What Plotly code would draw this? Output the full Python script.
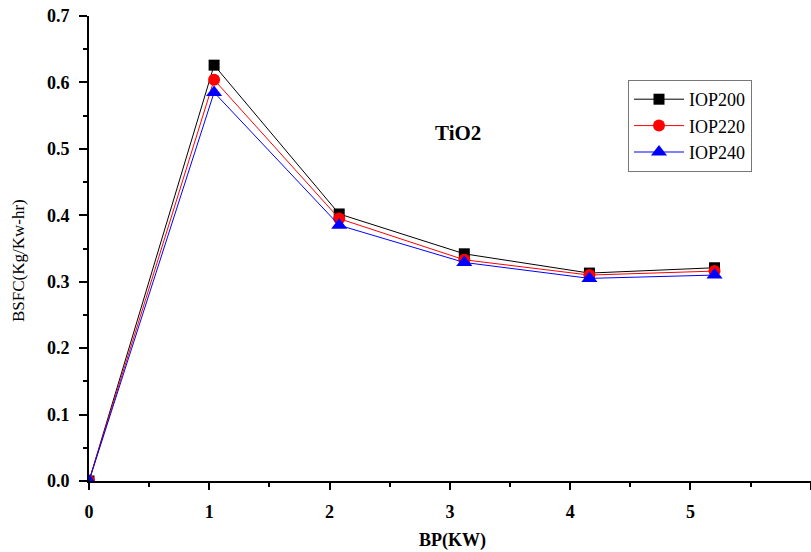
import plotly.graph_objects as go

bp = [0, 1.04, 2.08, 3.12, 4.16, 5.2]
iop200 = [0.0, 0.626, 0.402, 0.342, 0.313, 0.321]
iop220 = [0.0, 0.604, 0.395, 0.333, 0.310, 0.316]
iop240 = [0.0, 0.585, 0.385, 0.329, 0.305, 0.310]

x_ticks = [0, 1, 2, 3, 4, 5, 6]
y_ticks = [0.0, 0.1, 0.2, 0.3, 0.4, 0.5, 0.6, 0.7]

serif = "Liberation Serif"

L, T, R, B = 89, 16, 811, 481
W, H = R - L, B - T

fig = go.Figure()
fig.add_trace(go.Scatter(x=bp, y=iop200, name="IOP200", mode="lines+markers",
                         line=dict(color="black", width=1),
                         marker=dict(symbol="square", size=11, color="black")))
fig.add_trace(go.Scatter(x=bp, y=iop220, name="IOP220", mode="lines+markers",
                         line=dict(color="red", width=1),
                         marker=dict(symbol="circle", size=12, color="red")))
fig.add_trace(go.Scatter(x=bp, y=iop240, name="IOP240", mode="lines+markers",
                         line=dict(color="blue", width=1),
                         marker=dict(symbol="triangle-up", size=14, color="blue")))

fig.update_layout(
    width=811, height=552,
    margin=dict(l=L, r=811 - R, t=T, b=552 - B),
    plot_bgcolor="white", paper_bgcolor="white",
    font=dict(family=serif, color="black"),
    showlegend=True,
    legend=dict(x=(628 - L) / W, y=(B - 80) / H, xanchor="left", yanchor="top",
                bordercolor="#777777", borderwidth=1, itemwidth=50,
                font=dict(family=serif, size=18, color="black"),
                bgcolor="white", tracegroupgap=0),
    xaxis=dict(range=[0, 6.002], tickvals=x_ticks, ticktext=[str(v) for v in x_ticks],
               automargin=False,
               showline=True, linecolor="black", linewidth=2, mirror=False,
               ticks="outside", ticklen=7, tickwidth=2, tickcolor="black",
               ticklabelstandoff=6,
               showgrid=False, zeroline=False,
               tickfont=dict(family=serif, size=18, weight="bold"),
               minor=dict(ticks="outside", ticklen=4, tickwidth=2, tickcolor="black",
                          dtick=0.5, showgrid=False)),
    yaxis=dict(range=[0, 0.7], tickvals=y_ticks, ticktext=[f"{v:.1f}" for v in y_ticks],
               automargin=False,
               showline=True, linecolor="black", linewidth=2, mirror=False,
               ticks="outside", ticklen=8, tickwidth=2, tickcolor="black",
               ticklabelstandoff=6,
               showgrid=False, zeroline=False,
               tickfont=dict(family=serif, size=18, weight="bold"),
               minor=dict(ticks="outside", ticklen=4, tickwidth=2, tickcolor="black",
                          dtick=0.05, showgrid=False)),
)

fig.add_annotation(text="<b>TiO2</b>", xref="paper", yref="paper",
                   x=(458 - L) / W, y=(B - 133) / H, showarrow=False,
                   xanchor="center", yanchor="middle",
                   font=dict(family=serif, size=21, color="black"))
fig.add_annotation(text="BSFC(Kg/Kw-hr)", xref="paper", yref="paper",
                   x=(18 - L) / W, y=(B - 261) / H, showarrow=False,
                   textangle=-90, xanchor="center", yanchor="middle",
                   font=dict(family=serif, size=17, color="black"))
fig.add_annotation(text="<b>BP(KW)</b>", xref="paper", yref="paper",
                   x=(452 - L) / W, y=(B - 540) / H, showarrow=False,
                   xanchor="center", yanchor="middle",
                   font=dict(family=serif, size=18, color="black"))

fig.write_html("out.html", config={"displayModeBar": False},
               post_script="document.body.style.margin='0';document.body.style.overflow='hidden';")
